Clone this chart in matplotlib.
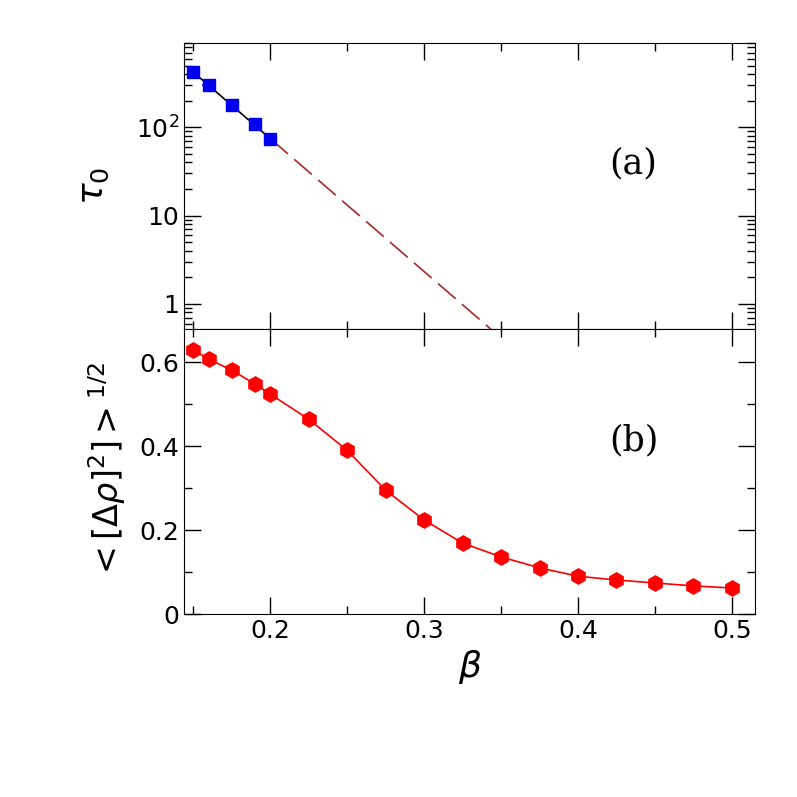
import numpy as np
import matplotlib
matplotlib.use("Agg")
import matplotlib.pyplot as plt
from matplotlib.ticker import MultipleLocator, FixedLocator, NullFormatter, FuncFormatter

beta_a = [0.15, 0.16, 0.175, 0.19, 0.2]
tau0 = [420, 297, 177, 108, 73]
tau_err = [30, 22, 14, 9, 6]

beta_b = [0.15, 0.16, 0.175, 0.19, 0.2, 0.225, 0.25, 0.275, 0.3, 0.325, 0.35,
          0.375, 0.4, 0.425, 0.45, 0.475, 0.5]
drho = [0.629, 0.607, 0.581, 0.548, 0.524, 0.464, 0.390, 0.295, 0.224, 0.169,
        0.136, 0.110, 0.090, 0.081, 0.074, 0.067, 0.062]

fig = plt.figure(figsize=(7.97, 7.97), dpi=100)
ax1 = fig.add_axes([0.2309, 0.5872, 0.7164, 0.3589])
ax2 = fig.add_axes([0.2309, 0.2296, 0.7164, 0.3576], sharex=ax1)

xlim = (0.144, 0.515)

p = np.polyfit(beta_a, np.log10(tau0), 1)
xs = np.linspace(beta_a[0], beta_a[-1], 50)
ax1.plot(xs, 10**np.polyval(p, xs), color="black", lw=1.2)
xd = np.linspace(beta_a[-1], 0.36, 100)
ax1.plot(xd, 10**np.polyval(p, xd), color="#a52a2a", lw=1.2, dashes=(14, 5))
ax1.errorbar(beta_a, tau0, yerr=tau_err, xerr=0.004, fmt="s", color="#0000ee",
             ms=9, capsize=0, lw=1.2, zorder=5)
ax1.set_yscale("log")
ax1.set_ylim(0.52, 900)
ax1.set_xlim(*xlim)
ax1.yaxis.set_major_locator(FixedLocator([1, 10, 100]))
ax1.yaxis.set_major_formatter(FuncFormatter(lambda v, _: {1: "1", 10: "10", 100: r"10$^2$"}.get(round(v), "")))
ax1.yaxis.set_minor_locator(FixedLocator([k * 10**e for e in range(-1, 3) for k in range(2, 10)]))
ax1.yaxis.set_minor_formatter(NullFormatter())
ax1.tick_params(labelbottom=False)
ax1.set_ylabel(r"$\tau_0$", fontsize=26, labelpad=18)
ax1.text(0.42, 30, "(a)", fontsize=25, family="DejaVu Serif")

ax2.plot(beta_b, drho, color="red", lw=1.2)
ax2.plot(beta_b, drho, "h", color="red", ms=11)
ax2.set_ylim(0, 0.679)
ax2.set_xlim(*xlim)
ax2.yaxis.set_major_locator(MultipleLocator(0.2))
ax2.yaxis.set_minor_locator(MultipleLocator(0.1))
ax2.yaxis.set_major_formatter(FuncFormatter(lambda v, _: "0" if abs(v) < 1e-9 else f"{v:.1f}"))
ax2.xaxis.set_major_locator(MultipleLocator(0.1))
ax2.xaxis.set_minor_locator(MultipleLocator(0.05))
ax2.xaxis.set_major_formatter(FuncFormatter(lambda v, _: f"{v:.1f}"))
ax2.set_xlabel(r"$\beta$", fontsize=26)
ax2.set_ylabel(r"$<[\Delta\rho]^2]>^{1/2}$", fontsize=24, labelpad=8)
ax2.text(0.42, 0.39, "(b)", fontsize=25, family="DejaVu Serif")

for ax in (ax1, ax2):
    ax.tick_params(which="both", direction="in", top=True, right=True, labelsize=18)
    ax.tick_params(which="major", length=12, width=1)
    ax.tick_params(which="minor", length=6, width=1)

fig.savefig("out.png", dpi=100)
